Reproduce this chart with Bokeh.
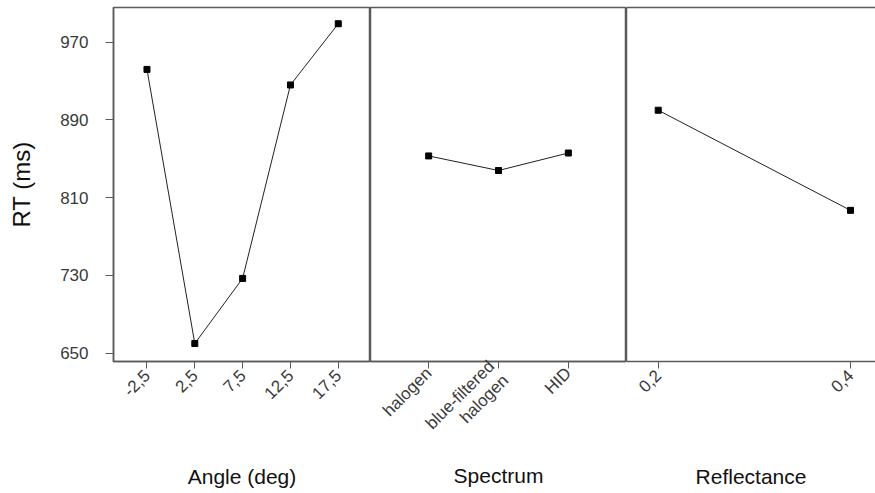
import math

from bokeh.embed import file_html
from bokeh.layouts import row
from bokeh.models import FactorRange, FixedTicker, LinearAxis, Range1d
from bokeh.plotting import figure
from bokeh.resources import INLINE

# Main effects on mean response time (ms)
angle_levels = [-2.5, 2.5, 7.5, 12.5, 17.5]
angle_labels = ["-2,5", "2,5", "7,5", "12,5", "17,5"]
angle_rt = [942, 660, 727, 926, 989]

spectrum_levels = ["halogen", "blue-filtered\nhalogen", "HID"]
spectrum_rt = [853, 838, 856]

reflectance_levels = [0.2, 0.4]
reflectance_labels = ["0,2", "0,4"]
reflectance_rt = [900, 797]

rt_ticks = [650, 730, 810, 890, 970]

FONT = "Liberation Sans"
FRAME = "#5a5a5a"
TEXT = "#3a3a3a"
TITLE = "#111111"
HEIGHT = 493
TOP = 7
BOTTOM = 132
EDGE = 1.5

y_range = Range1d(641.5, 1005.7)


def make_panel(width, x_range, left_border, title, label_standoff,
               title_standoff, **kw):
    p = figure(width=width, height=HEIGHT, x_range=x_range, y_range=y_range,
               output_backend="svg", toolbar_location=None,
               min_border_left=left_border, min_border_right=0,
               min_border_top=TOP, min_border_bottom=BOTTOM, **kw)
    p.grid.visible = False
    p.outline_line_color = FRAME
    p.outline_line_width = EDGE
    p.background_fill_color = "white"
    p.border_fill_color = "white"
    ax = p.xaxis[0]
    ax.axis_line_color = FRAME
    ax.axis_line_width = EDGE
    ax.major_tick_line_color = FRAME
    ax.major_tick_out = 7
    ax.major_tick_in = 0
    ax.minor_tick_line_color = None
    ax.major_label_orientation = math.pi / 4
    ax.major_label_standoff = label_standoff
    ax.major_label_text_font = FONT
    ax.major_label_text_font_size = "17px"
    ax.major_label_text_line_height = 1.05
    ax.major_label_text_color = TEXT
    ax.axis_label = title
    ax.axis_label_text_font = FONT
    ax.axis_label_text_font_size = "21px"
    ax.axis_label_text_font_style = "normal"
    ax.axis_label_text_color = TITLE
    ax.axis_label_standoff = title_standoff
    return p


def bare_axis():
    # axis used only for its line: no ticks, no labels
    return LinearAxis(ticker=FixedTicker(ticks=[]), axis_line_color=FRAME,
                      axis_line_width=EDGE, major_tick_out=0, major_tick_in=0,
                      minor_tick_line_color=None,
                      major_label_text_font_size="0px")


def add_series(p, xs, ys):
    p.line(xs, ys, line_color="#222222", line_width=1)
    p.scatter(xs, ys, marker="square", size=6, color="black")


# Angle panel (carries the shared RT axis)
p1 = make_panel(370, Range1d(-6.0, 20.87), 113, "Angle (deg)", 4, 58)
p1.xaxis.ticker = FixedTicker(ticks=angle_levels)
p1.xaxis.major_label_overrides = dict(zip(angle_levels, angle_labels))
ya = p1.yaxis[0]
ya.ticker = FixedTicker(ticks=rt_ticks)
ya.axis_line_color = FRAME
ya.axis_line_width = EDGE
ya.major_tick_line_color = FRAME
ya.major_tick_out = 8
ya.major_tick_in = 0
ya.minor_tick_line_color = None
ya.major_label_standoff = 17
ya.major_label_text_font = FONT
ya.major_label_text_font_size = "17px"
ya.major_label_text_color = TEXT
ya.axis_label = "RT (ms)"
ya.axis_label_text_font = FONT
ya.axis_label_text_font_size = "24px"
ya.axis_label_text_font_style = "normal"
ya.axis_label_text_color = TITLE
ya.axis_label_standoff = 22
add_series(p1, angle_levels, angle_rt)

# Spectrum panel
p2 = make_panel(256, FactorRange(factors=spectrum_levels, range_padding=0.333,
                                 range_padding_units="absolute"),
                0, "Spectrum", 2, 0, y_axis_location=None)
add_series(p2, spectrum_levels, spectrum_rt)

# Reflectance panel (open on the right)
p3 = make_panel(249, Range1d(0.167, 0.426), 0, "Reflectance", 4, 64,
                y_axis_location=None)
p3.outline_line_color = None
p3.xaxis.ticker = FixedTicker(ticks=reflectance_levels)
p3.xaxis.major_label_overrides = dict(zip(reflectance_levels, reflectance_labels))
p3.add_layout(bare_axis(), "above")
p3.add_layout(bare_axis(), "left")
add_series(p3, reflectance_levels, reflectance_rt)

layout = row(p1, p2, p3)
open("out.html", "w").write(file_html(layout, INLINE))
